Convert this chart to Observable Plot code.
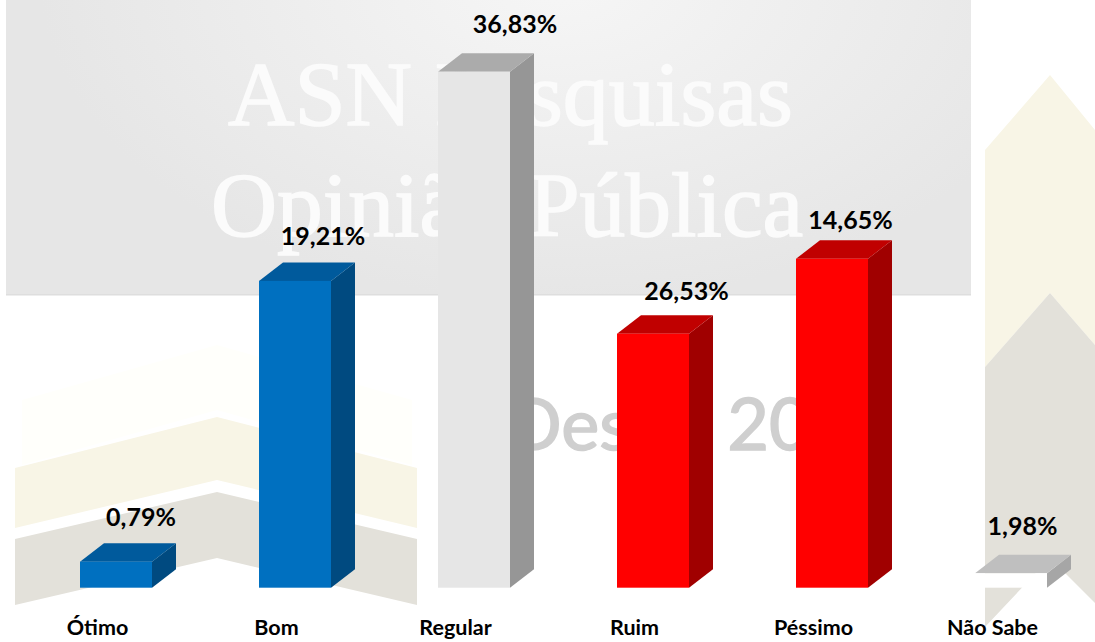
<!DOCTYPE html>
<html lang="pt-BR">
<head>
<meta charset="utf-8">
<title>ASN Pesquisas</title>
<script src="https://cdn.jsdelivr.net/npm/d3@7"></script>
<script src="https://cdn.jsdelivr.net/npm/@observablehq/plot@0.6"></script>
<style>
  html, body { margin: 0; padding: 0; background: #fff; overflow: hidden; }
  svg { display: block; }
</style>
</head>
<body>
<div id="chart"></div>
<script>
// Data
const categories = ["Ótimo", "Bom", "Regular", "Ruim", "Péssimo", "Não Sabe"];
const valueLabels = ["0,79%", "19,21%", "36,83%", "26,53%", "14,65%", "1,98%"];
// Drawn bar heights (the source's bars do not follow its labels)
const barHeights = [1.86, 21.9, 36.83, 18.13, 23.48, 1.03];

// Style and layout, separate from the data
const palettes = [
  { front: "#0070c0", top: "#005a9c", side: "#004a80" },
  { front: "#0070c0", top: "#005a9c", side: "#004a80" },
  { front: "#e6e6e6", top: "#ababab", side: "#969696" },
  { front: "#ff0000", top: "#c00000", side: "#a00000" },
  { front: "#ff0000", top: "#c00000", side: "#a00000" },
  { front: "#ffffff", top: "#bfbfbf", side: "#a6a6a6" }
];
const labelNudge = [[24.5, -26], [27.5, -26], [40.5, -28.7], [33, -24], [18, -19.5], [11, -28]];
const W = 1095, H = 642, baseY = 587.7, step = 179, firstCenter = 116, pxPerUnit = 14.01;
const half = 36 / step, depthX = 24 / step, depthY = 18.4 / pxPerUnit;
const font = "Lato, Carlito, sans-serif";

const bars = barHeights.map((h, i) => ({ i, h, left: i - half, right: i + half }));
const sideFaces = bars.flatMap(b => [
  { key: b.i, c: palettes[b.i].side, x: b.right, y1: 0, y2: b.h },
  { key: b.i, c: palettes[b.i].side, x: b.right + depthX, y1: depthY, y2: b.h + depthY }
]);
const topFaces = bars.flatMap(b => [
  { key: b.i, c: palettes[b.i].top, x: b.left, y1: b.h, y2: b.h },
  { key: b.i, c: palettes[b.i].top, x: b.left + depthX, y1: b.h, y2: b.h + depthY },
  { key: b.i, c: palettes[b.i].top, x: b.right, y1: b.h, y2: b.h + depthY },
  { key: b.i, c: palettes[b.i].top, x: b.right + depthX, y1: b.h + depthY, y2: b.h + depthY }
]);

// Watermark picture behind the chart
function watermark() {
  const g = d3.create("svg:g").attr("text-anchor", "start");
  const defs = g.append("defs");
  const grad = defs.append("radialGradient").attr("id", "wmGrey")
    .attr("gradientUnits", "userSpaceOnUse").attr("cx", 560).attr("cy", -20).attr("r", 520)
    .attr("gradientTransform", "translate(560 -20) scale(1 0.62) translate(-560 20)");
  grad.append("stop").attr("offset", 0).attr("stop-color", "#f6f6f6");
  grad.append("stop").attr("offset", 1).attr("stop-color", "#e6e6e6");
  const poly = (pts, fill) => g.append("polygon").attr("points", pts.join(" ")).attr("fill", fill);
  g.append("rect").attr("x", 6).attr("y", 0).attr("width", 965).attr("height", 295).attr("fill", "url(#wmGrey)");
  g.append("rect").attr("x", 6).attr("y", 294).attr("width", 965).attr("height", 1.5).attr("fill", "#dedede");
  // left chevron
  poly(["22,400", "217,345", "412,400", "412,465", "217,410", "22,465"], "#fffffb");
  poly(["15,468", "217,417", "417,468", "417,528", "217,480", "15,528"], "#f8f5e6");
  poly(["15,539", "217,492", "417,539", "417,605", "217,558", "15,605"], "#e3e1da");
  // right chevron
  poly(["985,150", "1050,75", "1095,130", "1095,345", "1050,293", "985,367"], "#f8f5e6");
  poly(["985,367", "1050,293", "1095,345", "1095,603", "1050,558", "985,627"], "#e3e1da");
  const txt = (s, x, y, size, family, fill, weight, sw) => g.append("text")
    .attr("x", x).attr("y", y).attr("fill", fill).attr("font-size", size)
    .attr("stroke", fill).attr("stroke-width", sw)
    .attr("font-family", family).attr("font-weight", weight).text(s);
  txt("ASN Pesquisas", 228, 125, 92, "'Liberation Serif', serif", "#fbfbfb", 400, 1.5);
  txt("Opinião Pública", 211, 236, 91.5, "'Liberation Serif', serif", "#fbfbfb", 400, 1.5);
  txt("Desde 20", 507, 450, 72, font, "#cfcfcf", 400, 1.5);
  return g.node();
}

const chart = Plot.plot({
  width: W,
  height: H,
  marginLeft: 0,
  marginRight: 0,
  marginTop: 0,
  marginBottom: H - baseY,
  style: { background: "transparent", fontFamily: font },
  x: { domain: [-firstCenter / step, (W - firstCenter) / step], axis: null },
  y: { domain: [0, baseY / pxPerUnit], axis: null },
  marks: [
    watermark,
    Plot.areaY(sideFaces, {
      x: "x", y1: "y1", y2: "y2", z: "key",
      fill: { value: "c", scale: null }, curve: "linear"
    }),
    Plot.areaY(topFaces, {
      x: "x", y1: "y1", y2: "y2", z: "key",
      fill: { value: "c", scale: null }, curve: "linear"
    }),
    Plot.rect(bars, {
      x1: "left", x2: "right", y1: 0, y2: "h",
      fill: { value: d => palettes[d.i].front, scale: null }
    }),
    ...bars.map((b, k) => Plot.text([b], {
      x: "i",
      y: d => d.h + depthY,
      text: d => valueLabels[d.i],
      dx: labelNudge[k][0],
      dy: labelNudge[k][1],
      fontSize: 25,
      fontWeight: "bold",
      fill: "#000",
      fontFamily: font
    })),
    Plot.axisX({
      ticks: d3.range(categories.length),
      tickFormat: i => categories[i],
      tickSize: 0,
      tickPadding: 32,
      dx: -19,
      label: null,
      fontSize: 21.5,
      fontWeight: "bold",
      fill: "#000",
      fontFamily: font
    })
  ]
});
document.getElementById("chart").appendChild(chart);
</script>
</body>
</html>
